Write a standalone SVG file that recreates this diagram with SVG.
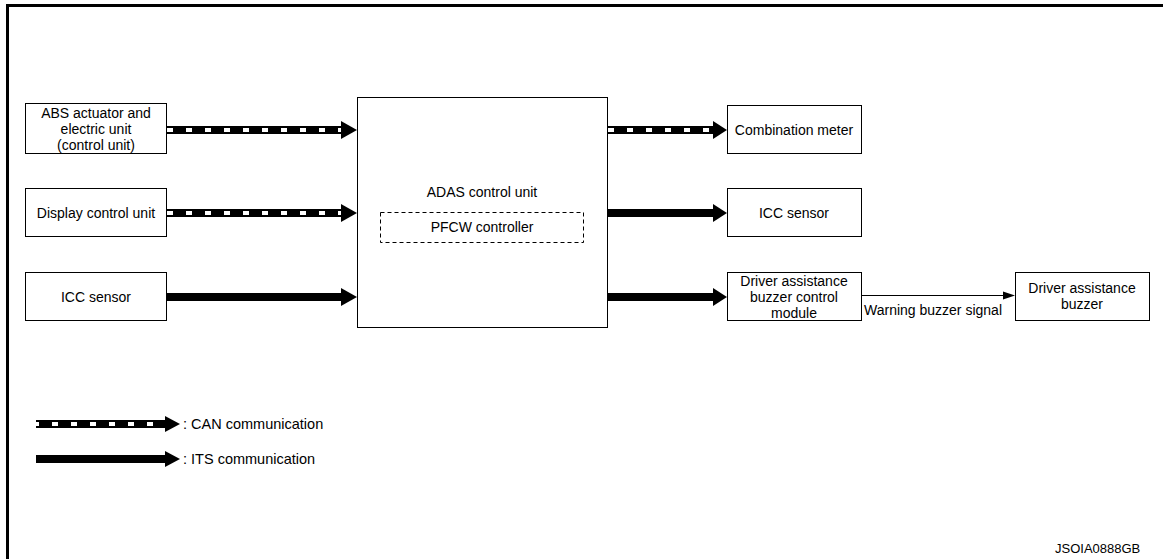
<svg xmlns="http://www.w3.org/2000/svg" width="1163" height="559" viewBox="0 0 1163 559">
<style>
text{font-family:"Liberation Sans",Arial,sans-serif;font-size:14px;fill:#000}
.box{fill:#fff;stroke:#000;stroke-width:1}
.dash{fill:none;stroke:#000;stroke-width:1;stroke-dasharray:4 3}
.line{stroke:#000;stroke-width:8;fill:none}
.can{stroke:#fff;stroke-width:4;fill:none;stroke-dasharray:6 13}
.head{fill:#000}
</style>
<rect width="1163" height="559" fill="#fff"/>
<path d="M7.5 600 V5.5 H1200" fill="none" stroke="#000" stroke-width="3"/>

<g id="abs"><rect class="box" x="25.5" y="103.5" width="141" height="50"/>
<text x="96" y="118" text-anchor="middle">ABS actuator and</text>
<text x="96" y="134" text-anchor="middle">electric unit</text>
<text x="96" y="150" text-anchor="middle">(control unit)</text></g>
<g id="display"><rect class="box" x="25.5" y="188.5" width="141" height="48"/>
<text x="96" y="218" text-anchor="middle">Display control unit</text></g>
<g id="icc-left"><rect class="box" x="25.5" y="272.5" width="141" height="48"/>
<text x="96" y="302" text-anchor="middle">ICC sensor</text></g>
<g id="adas"><rect class="box" x="357.5" y="97.5" width="250" height="230"/>
<text x="482" y="197" text-anchor="middle">ADAS control unit</text>
<rect class="dash" x="380.5" y="212.5" width="203" height="30"/>
<text x="482" y="232" text-anchor="middle">PFCW controller</text></g>
<g id="combination"><rect class="box" x="727.5" y="105.5" width="134" height="48"/>
<text x="794" y="135" text-anchor="middle">Combination meter</text></g>
<g id="icc-right"><rect class="box" x="727.5" y="188.5" width="134" height="48"/>
<text x="794" y="218" text-anchor="middle">ICC sensor</text></g>
<g id="buzzer-module"><rect class="box" x="727.5" y="272.5" width="134" height="48"/>
<text x="794" y="286" text-anchor="middle">Driver assistance</text>
<text x="794" y="302" text-anchor="middle">buzzer control</text>
<text x="794" y="318" text-anchor="middle">module</text></g>
<g id="buzzer"><rect class="box" x="1015.5" y="272.5" width="134" height="48"/>
<text x="1082" y="293" text-anchor="middle">Driver assistance</text>
<text x="1082" y="309" text-anchor="middle">buzzer</text></g>

<g id="connectors">
<line class="line" x1="167" y1="130" x2="343" y2="130"/>
<line class="can" x1="167" y1="130" x2="341" y2="130"/>
<polygon class="head" points="341,121 357,130 341,139"/>
<line class="line" x1="167" y1="213" x2="343" y2="213"/>
<line class="can" x1="167" y1="213" x2="341" y2="213"/>
<polygon class="head" points="341,204 357,213 341,222"/>
<line class="line" x1="167" y1="297" x2="343" y2="297"/>
<polygon class="head" points="341,288 357,297 341,306"/>
<line class="line" x1="608" y1="130" x2="715" y2="130"/>
<line class="can" x1="608" y1="130" x2="713" y2="130"/>
<polygon class="head" points="713,121 727,130 713,139"/>
<line class="line" x1="608" y1="213" x2="715" y2="213"/>
<polygon class="head" points="713,204 727,213 713,222"/>
<line class="line" x1="608" y1="297" x2="715" y2="297"/>
<polygon class="head" points="713,288 727,297 713,306"/>
<line x1="862" y1="295.5" x2="1005" y2="295.5" stroke="#000" stroke-width="1"/>
<polygon class="head" points="1003,291.5 1015,295.5 1003,299.5"/>
<text x="864" y="315">Warning buzzer signal</text>
</g>

<g id="legend">
<line class="line" x1="36" y1="424" x2="167" y2="424"/>
<line class="can" x1="36" y1="424" x2="165" y2="424" stroke-dashoffset="3"/>
<polygon class="head" points="165,416 180,424 165,432"/>
<text x="183" y="429" style="font-size:14.5px">: CAN communication</text>
<line class="line" x1="36" y1="459" x2="167" y2="459"/>
<polygon class="head" points="165,451 180,459 165,467"/>
<text x="183" y="464" style="font-size:14.5px">: ITS communication</text>
</g>
<text x="1055" y="553" style="font-size:13px">JSOIA0888GB</text>
</svg>
